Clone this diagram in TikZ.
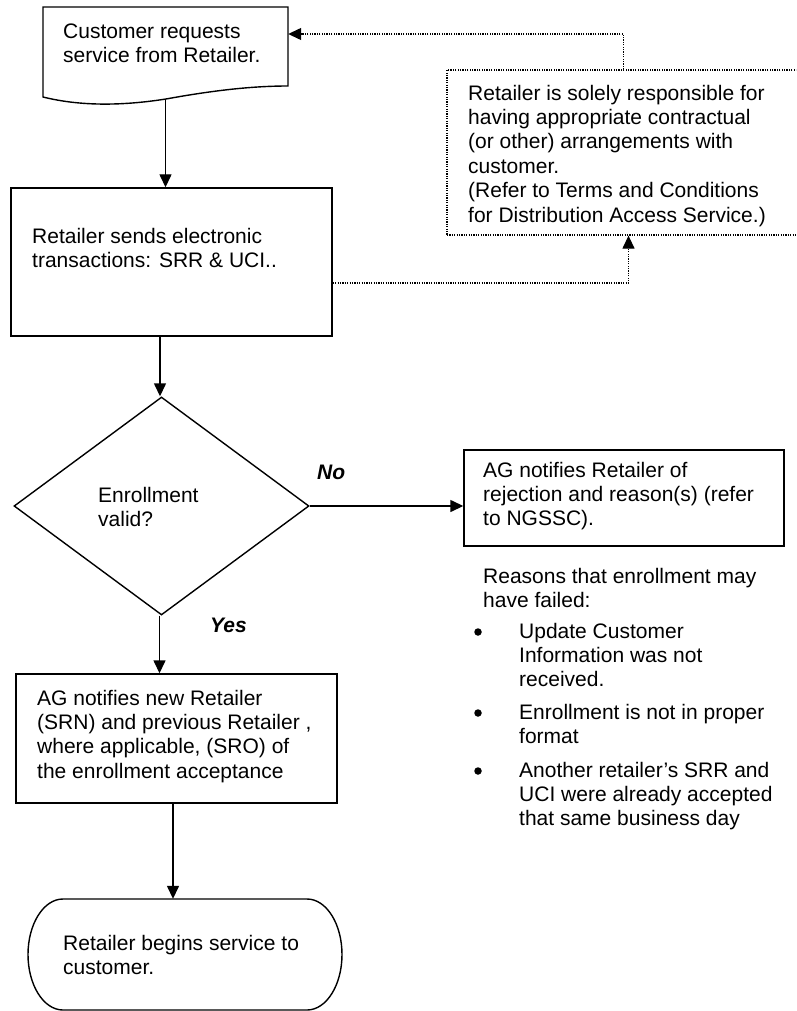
\documentclass[tikz,border=0pt]{standalone}
\usepackage{fontspec}
\setmainfont{Liberation Sans}
\usetikzlibrary{arrows.meta,shapes.geometric}
\begin{document}
\begin{tikzpicture}[x=1pt,y=-1pt,
  lw/.style={line width=1.4pt},
  box/.style={draw, lw, rectangle, inner sep=0pt},
  ghost/.style={rectangle, inner sep=0pt},
  txt/.style={font=\fontsize{21}{24.4}\selectfont, align=left, inner sep=0pt, anchor=north west},
  lbl/.style={font=\fontsize{21}{24.4}\selectfont\bfseries\itshape, inner sep=0pt, anchor=north west},
  bul/.style={circle, fill=black, inner sep=0pt, minimum size=7.5pt},
  arr/.style={lw, -{Triangle[length=13pt,width=12pt]}},
  dotline/.style={line width=1.3pt, dash pattern=on 1.2pt off 1.2pt},
  dotarr/.style={dotline, -{Triangle[length=13pt,width=12pt]}}]
\clip (0,0) rectangle (796,1011);
\fill[white] (0,0) rectangle (796,1011);

% document shape
\node[ghost, minimum width=245pt, minimum height=91pt] (doc) at (165.5,52.5) {};
\draw[lw] (43,7) -- (288,7) -- (288,86) .. controls (250,86) and (210,91) .. (166,99)
  .. controls (115,107) and (75,105) .. (43,97) -- cycle;
\node[txt] (tdoc) at (63,20.9) {\strut Customer requests\\service from Retailer.};

% retailer sends box
\node[box, minimum width=321pt, minimum height=148pt] (ret) at (171.5,262) {};
\node[txt] (tret) at (32,225.9) {\strut Retailer sends electronic\\transactions: SRR \& UCI..};

% note box (dotted)
\node[rectangle, inner sep=0pt, draw, dotline, minimum width=353pt, minimum height=165pt] (note) at (623.5,152.5) {};
\node[txt] (tnote) at (468,82.9) {\strut Retailer is solely responsible for\\having appropriate contractual\\(or other) arrangements with\\customer.\\(Refer to Terms and Conditions\\for Distribution Access Service.)};

% decision
\node[diamond, draw, lw, inner sep=0pt, minimum width=295pt, minimum height=218pt] (dia) at (161.5,506) {};
\node[txt] (tdia) at (98,484.9) {\strut Enrollment\\valid?};

% rejection box
\node[box, minimum width=320pt, minimum height=96pt] (rej) at (624,498) {};
\node[txt] (trej) at (483,459.9) {\strut AG notifies Retailer of\\rejection and reason(s) (refer\\to NGSSC).};

% reasons
\node[txt] (reasons) at (483,565.9) {\strut Reasons that enrollment may\\have failed:};
\node[bul] (b1) at (478,632) {};
\node[txt] (i1) at (519,620.9) {\strut Update Customer\\Information was not\\received.};
\node[bul] (b2) at (478,713) {};
\node[txt] (i2) at (519,701.9) {\strut Enrollment is not in proper\\format};
\node[bul] (b3) at (478,771) {};
\node[txt] (i3) at (519,759.9) {\strut Another retailer’s SRR and\\UCI were already accepted\\that same business day};

% acceptance box
\node[box, minimum width=321pt, minimum height=129pt] (acc) at (176.5,738.5) {};
\node[txt] (tacc) at (37,687.9) {\strut AG notifies new Retailer\\(SRN) and previous Retailer ,\\where applicable, (SRO) of\\the enrollment acceptance};

% terminal
\node[ghost, minimum width=314pt, minimum height=111pt] (term) at (185,954.5) {};
\draw[lw] (63,899) -- (307,899) arc[start angle=90, end angle=-90, x radius=35pt, y radius=55.5pt]
  -- (63,1010) arc[start angle=270, end angle=90, x radius=35pt, y radius=55.5pt] -- cycle;
\node[txt] (tterm) at (63,932.9) {\strut Retailer begins service to\\customer.};

% labels
\node[lbl] (no) at (317,461.9) {\strut No};
\node[lbl] (yes) at (210,614.9) {\strut Yes};

% connectors
\draw[arr] ([yshift=-1pt]doc.south) -- (doc.south |- ret.north);
\draw[arr] ([xshift=-1.5pt]dia.north |- ret.south) -- ([xshift=-1.5pt]dia.north);
\draw[arr] (dia.east) -- (dia.east -| rej.west);
\draw[arr] ([xshift=-2pt]dia.south) -- ([xshift=-2pt]dia.south |- acc.north);
\draw[arr] ([xshift=-3.5pt]acc.south) -- ([xshift=-3.5pt]acc.south |- term.north);
\draw[dotarr] (note.north) |- ([yshift=18.5pt]doc.east);
\draw[dotarr] ([yshift=-21pt]ret.east) -| ([xshift=5pt]note.south);
\end{tikzpicture}
\end{document}
